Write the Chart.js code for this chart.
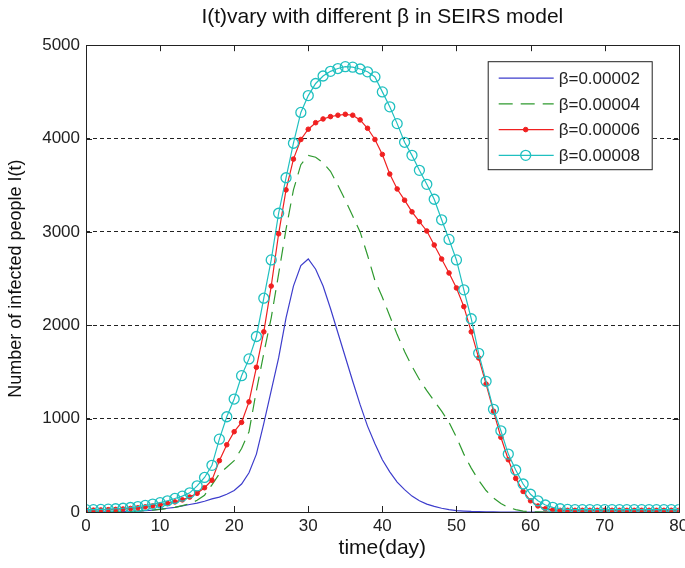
<!DOCTYPE html>
<html>
<head>
<meta charset="utf-8">
<script src="https://cdn.jsdelivr.net/npm/chart.js@4"></script>
<style>
  html, body { margin: 0; padding: 0; background: #fff; }
  #wrap { width: 685px; height: 568px; }
</style>
</head>
<body>
<div id="wrap"><canvas id="sirChart" width="685" height="568"></canvas></div>
<script>
/*************************************************
 * Data (one value per day)
 *************************************************/
const days = [0,1,2,3,4,5,6,7,8,9,10,11,12,13,14,15,16,17,18,19,20,
  21,22,23,24,25,26,27,28,29,30,31,32,33,34,35,36,37,38,39,40,
  41,42,43,44,45,46,47,48,49,50,51,52,53,54,55,56,57,58,59,60,
  61,62,63,64,65,66,67,68,69,70,71,72,73,74,75,76,77,78,79,80];

const beta2 = [0,0,1,2,3,5,8,10,15,20,
  30,40,50,65,80,95,115,140,160,190,
  230,300,420,620,950,1300,1650,2080,2420,2640,
  2710,2600,2420,2180,1920,1660,1400,1150,920,730,
  560,430,320,240,170,120,85,60,40,25,
  15,10,6,4,2,1,0,0,0,0,
  0,0,0,0,0,0,0,0,0,0,
  0,0,0,0,0,0,0,0,0,0,0];

const beta4 = [0,0,1,2,3,5,7,10,14,20,
  28,38,50,68,90,125,180,290,410,480,
  550,680,860,1300,1700,2080,2550,3030,3450,3720,
  3820,3800,3740,3650,3500,3340,3170,3000,2750,2480,
  2300,2100,1900,1720,1560,1420,1300,1190,1080,960,
  800,620,470,340,230,150,90,50,25,10,
  3,1,0,0,0,0,0,0,0,0,
  0,0,0,0,0,0,0,0,0,0,0];

const beta6 = [20,20,22,25,28,32,38,45,55,65,
  78,92,108,130,160,200,260,340,550,720,
  860,960,1180,1550,1930,2420,2980,3450,3780,3990,
  4100,4170,4210,4235,4250,4260,4250,4200,4110,3990,
  3830,3620,3460,3340,3215,3110,3010,2860,2710,2560,
  2400,2200,1930,1650,1370,1080,800,560,360,220,
  120,65,35,22,18,18,18,18,18,18,
  18,18,18,18,18,18,18,18,18,18,18];

const beta8 = [25,25,28,30,35,40,48,58,70,85,
  100,120,145,170,205,280,370,500,780,1020,
  1210,1460,1640,1880,2290,2700,3200,3580,3950,4280,
  4460,4590,4670,4720,4750,4770,4765,4745,4715,4660,
  4500,4340,4160,3960,3820,3660,3510,3350,3130,2920,
  2700,2380,2070,1700,1400,1100,870,620,450,300,
  190,120,75,50,35,28,25,25,25,25,
  25,25,25,25,25,25,25,25,25,25,25];

const seriesLabels = ["β=0.00002", "β=0.00004", "β=0.00006", "β=0.00008"];
const xTicks = [0,10,20,30,40,50,60,70,80];
const yTicks = [0,1000,2000,3000,4000,5000];

const FONT = "'Liberation Sans', Arial, sans-serif";

function pts(vals) {
    return days.map((d, i) => ({ x: d, y: vals[i] }));
}

/*************************************************
 * Box, inward ticks and in-plot legend
 *************************************************/
const boxPlugin = {
    id: "boxPlugin",
    afterDraw(chart) {
        const { ctx, chartArea: a, scales: { x, y } } = chart;
        ctx.save();
        ctx.strokeStyle = "#222";
        ctx.lineWidth = 1;
        ctx.strokeRect(Math.round(a.left) + 0.5, Math.round(a.top) + 0.5,
            Math.round(a.right - a.left), Math.round(a.bottom - a.top));

        ctx.beginPath();
        xTicks.forEach(v => {
            const px = Math.round(x.getPixelForValue(v)) + 0.5;
            ctx.moveTo(px, a.bottom); ctx.lineTo(px, a.bottom - 6);
            ctx.moveTo(px, a.top); ctx.lineTo(px, a.top + 6);
        });
        yTicks.forEach(v => {
            const py = Math.round(y.getPixelForValue(v)) + 0.5;
            ctx.moveTo(a.left, py); ctx.lineTo(a.left + 6, py);
            ctx.moveTo(a.right, py); ctx.lineTo(a.right - 6, py);
        });
        ctx.stroke();

        // legend box
        const lx = a.right - 191, ly = a.top + 16, lw = 164, lh = 108;
        ctx.fillStyle = "#fff";
        ctx.fillRect(lx, ly, lw, lh);
        ctx.strokeStyle = "#222";
        ctx.strokeRect(lx + 0.5, ly + 0.5, lw, lh);

        ctx.font = "17px " + FONT;
        ctx.textBaseline = "middle";
        chart.data.datasets.forEach((ds, i) => {
            const ry = ly + 17 + i * 25.7;
            ctx.save();
            ctx.strokeStyle = ds.borderColor;
            ctx.lineWidth = ds.borderWidth;
            ctx.setLineDash(ds.borderDash || []);
            ctx.beginPath();
            ctx.moveTo(lx + 11, ry); ctx.lineTo(lx + 66, ry);
            ctx.stroke();
            ctx.restore();
            if (ds.pointRadius > 0) {
                ctx.save();
                ctx.beginPath();
                ctx.arc(lx + 38, ry, ds.pointRadius, 0, Math.PI * 2);
                if (ds.pointBackgroundColor !== "transparent") {
                    ctx.fillStyle = ds.pointBackgroundColor;
                    ctx.fill();
                }
                ctx.strokeStyle = ds.pointBorderColor;
                ctx.lineWidth = ds.pointBorderWidth;
                ctx.stroke();
                ctx.restore();
            }
            ctx.fillStyle = "#222";
            ctx.fillText(ds.label, lx + 71, ry + 1);
        });
        ctx.restore();
    }
};

/*************************************************
 * Line Chart
 *************************************************/
const ctx = document.getElementById("sirChart");

new Chart(ctx, {
    type: "line",
    data: {
        datasets: [
            {
                label: seriesLabels[0],
                data: pts(beta2),
                borderColor: "#3d3dcc",
                borderWidth: 1.2,
                pointRadius: 0,
                order: 4
            },
            {
                label: seriesLabels[1],
                data: pts(beta4),
                borderColor: "#2f9a2f",
                borderWidth: 1.2,
                borderDash: [14, 8],
                pointRadius: 0,
                order: 3
            },
            {
                label: seriesLabels[2],
                data: pts(beta6),
                borderColor: "#f02020",
                borderWidth: 1.2,
                pointRadius: 2.3,
                pointStyle: "circle",
                pointBackgroundColor: "#f02020",
                pointBorderColor: "#f02020",
                pointBorderWidth: 1,
                order: 2
            },
            {
                label: seriesLabels[3],
                data: pts(beta8),
                borderColor: "#20c0c0",
                borderWidth: 1.2,
                pointRadius: 5,
                pointStyle: "circle",
                pointBackgroundColor: "transparent",
                pointBorderColor: "#20c0c0",
                pointBorderWidth: 1.3,
                order: 1
            }
        ]
    },
    options: {
        responsive: false,
        animation: false,
        layout: { padding: { left: 0, right: 5, top: 0, bottom: 0 } },
        plugins: {
            legend: { display: false },
            tooltip: { enabled: false },
            title: {
                display: true,
                fullSize: false,
                text: "I(t)vary with different β in SEIRS model",
                color: "#111",
                font: { family: FONT, size: 21, weight: "normal" },
                padding: { top: 5, bottom: 15 }
            }
        },
        scales: {
            x: {
                type: "linear",
                min: 0,
                max: 80,
                afterBuildTicks: s => { s.ticks = xTicks.map(v => ({ value: v })); },
                afterFit: s => { s.height = 56; s.paddingLeft = 0; s.paddingRight = 0; },
                grid: { display: false },
                border: { display: false },
                ticks: {
                    color: "#222",
                    font: { family: FONT, size: 17 },
                    padding: -4,
                    maxRotation: 0
                },
                title: {
                    display: true,
                    text: "time(day)",
                    color: "#111",
                    font: { family: FONT, size: 21 },
                    padding: { top: 0, bottom: 7 }
                }
            },
            y: {
                min: 0,
                max: 5000,
                afterBuildTicks: s => { s.ticks = yTicks.map(v => ({ value: v })); },
                afterFit: s => { s.width = 86; s.paddingTop = 0; s.paddingBottom = 0; },
                grid: {
                    color: "#222",
                    lineWidth: 1,
                    drawTicks: false
                },
                border: { display: false, dash: [4, 3] },
                ticks: {
                    color: "#222",
                    font: { family: FONT, size: 17 },
                    padding: 6,
                    callback: v => String(v)
                },
                title: {
                    display: true,
                    text: "Number of infected people I(t)",
                    color: "#111",
                    font: { family: FONT, size: 18 },
                    padding: { top: 5, bottom: 0 }
                }
            }
        }
    },
    plugins: [boxPlugin]
});
</script>
</body>
</html>
